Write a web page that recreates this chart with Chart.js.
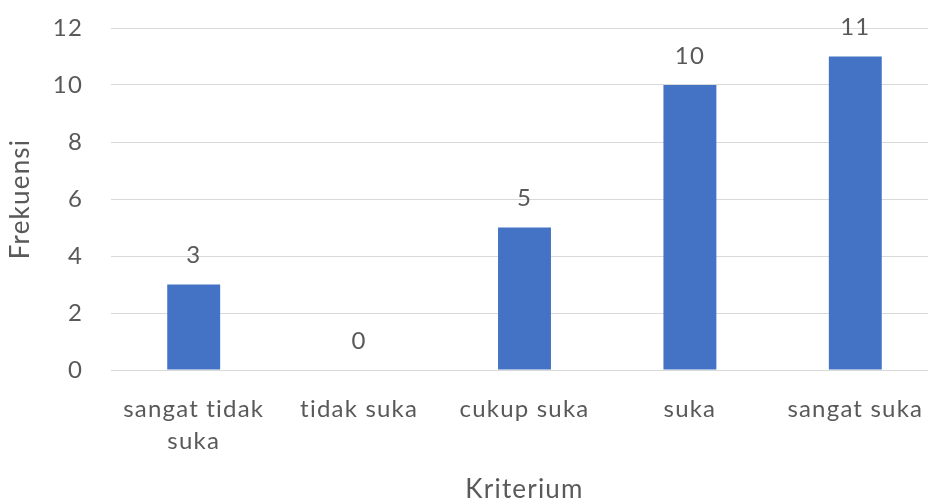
<!DOCTYPE html>
<html>
<head>
<meta charset="utf-8">
<script src="https://cdn.jsdelivr.net/npm/chart.js@4.4.0/dist/chart.umd.min.js"></script>
<style>
  html, body { margin: 0; padding: 0; background: #fff; overflow: hidden; }
  .wrap { width: 938px; height: 503px; position: relative; }
</style>
</head>
<body>
<div class="wrap"><canvas id="chart"></canvas></div>
<script>
const categories = [["sangat tidak", "suka"], "tidak suka", "cukup suka", "suka", "sangat suka"];
const frekuensi = [3, 0, 5, 10, 11];
const yTicks = [0, 2, 4, 6, 8, 10, 12];

const textColor = "#595959";
const fontFamily = "Lato, 'Open Sans', sans-serif";

// slightly loose text spacing, set before layout and before drawing
const spacing = {
  id: "spacing",
  beforeUpdate(chart) { chart.ctx.letterSpacing = "1.2px"; },
  beforeDraw(chart) { chart.ctx.letterSpacing = "1.2px"; },
};

// value printed above each bar
const barValues = {
  id: "barValues",
  afterDatasetsDraw(chart) {
    const ctx = chart.ctx;
    const meta = chart.getDatasetMeta(0);
    ctx.save();
    ctx.fillStyle = textColor;
    ctx.font = "24px " + fontFamily;
    ctx.textAlign = "center";
    ctx.textBaseline = "middle";
    meta.data.forEach((bar, i) => {
      ctx.fillText(String(frekuensi[i]), bar.x, bar.y - 29);
    });
    ctx.restore();
  },
};

function drawChart() {
  new Chart(document.getElementById("chart"), {
    type: "bar",
    data: {
      labels: categories,
      datasets: [
        {
          label: "Frekuensi",
          data: frekuensi,
          backgroundColor: "#4472C4",
          barPercentage: 0.32,
          categoryPercentage: 1,
        },
      ],
    },
    options: {
      responsive: true,
      maintainAspectRatio: false,
      animation: false,
      layout: { padding: { top: 28, left: 0, right: 0, bottom: 0 } },
      plugins: {
        legend: { display: false },
        tooltip: { enabled: false },
      },
      scales: {
        x: {
          afterFit(axis) {
            axis.paddingLeft = 0;
            axis.paddingRight = 0;
            axis.height = 133;
          },
          grid: { display: false, drawTicks: false },
          border: { color: "#d9d9d9" },
          ticks: {
            color: textColor,
            font: { family: fontFamily, size: 24, lineHeight: 1.3 },
            maxRotation: 0,
            autoSkip: false,
            padding: 24,
          },
          title: {
            display: true,
            text: "Kriterium",
            color: textColor,
            font: { family: fontFamily, size: 26, lineHeight: 1 },
            padding: { top: 2, bottom: 0 },
          },
        },
        y: {
          min: 0,
          max: 12,
          afterBuildTicks(axis) {
            axis.ticks = yTicks.map((v) => ({ value: v }));
          },
          afterFit(axis) {
            axis.width = 111;
            axis.paddingTop = 0;
            axis.paddingBottom = 0;
          },
          grid: { color: "#d9d9d9", drawTicks: false },
          border: { display: false },
          ticks: {
            color: textColor,
            font: { family: fontFamily, size: 24 },
            padding: 28,
          },
          title: {
            display: true,
            text: "Frekuensi",
            color: textColor,
            font: { family: fontFamily, size: 26, lineHeight: 1 },
            padding: { top: 8, bottom: 0 },
          },
        },
      },
    },
    plugins: [spacing, barValues],
  });
}

window.addEventListener("load", drawChart);
</script>
</body>
</html>
